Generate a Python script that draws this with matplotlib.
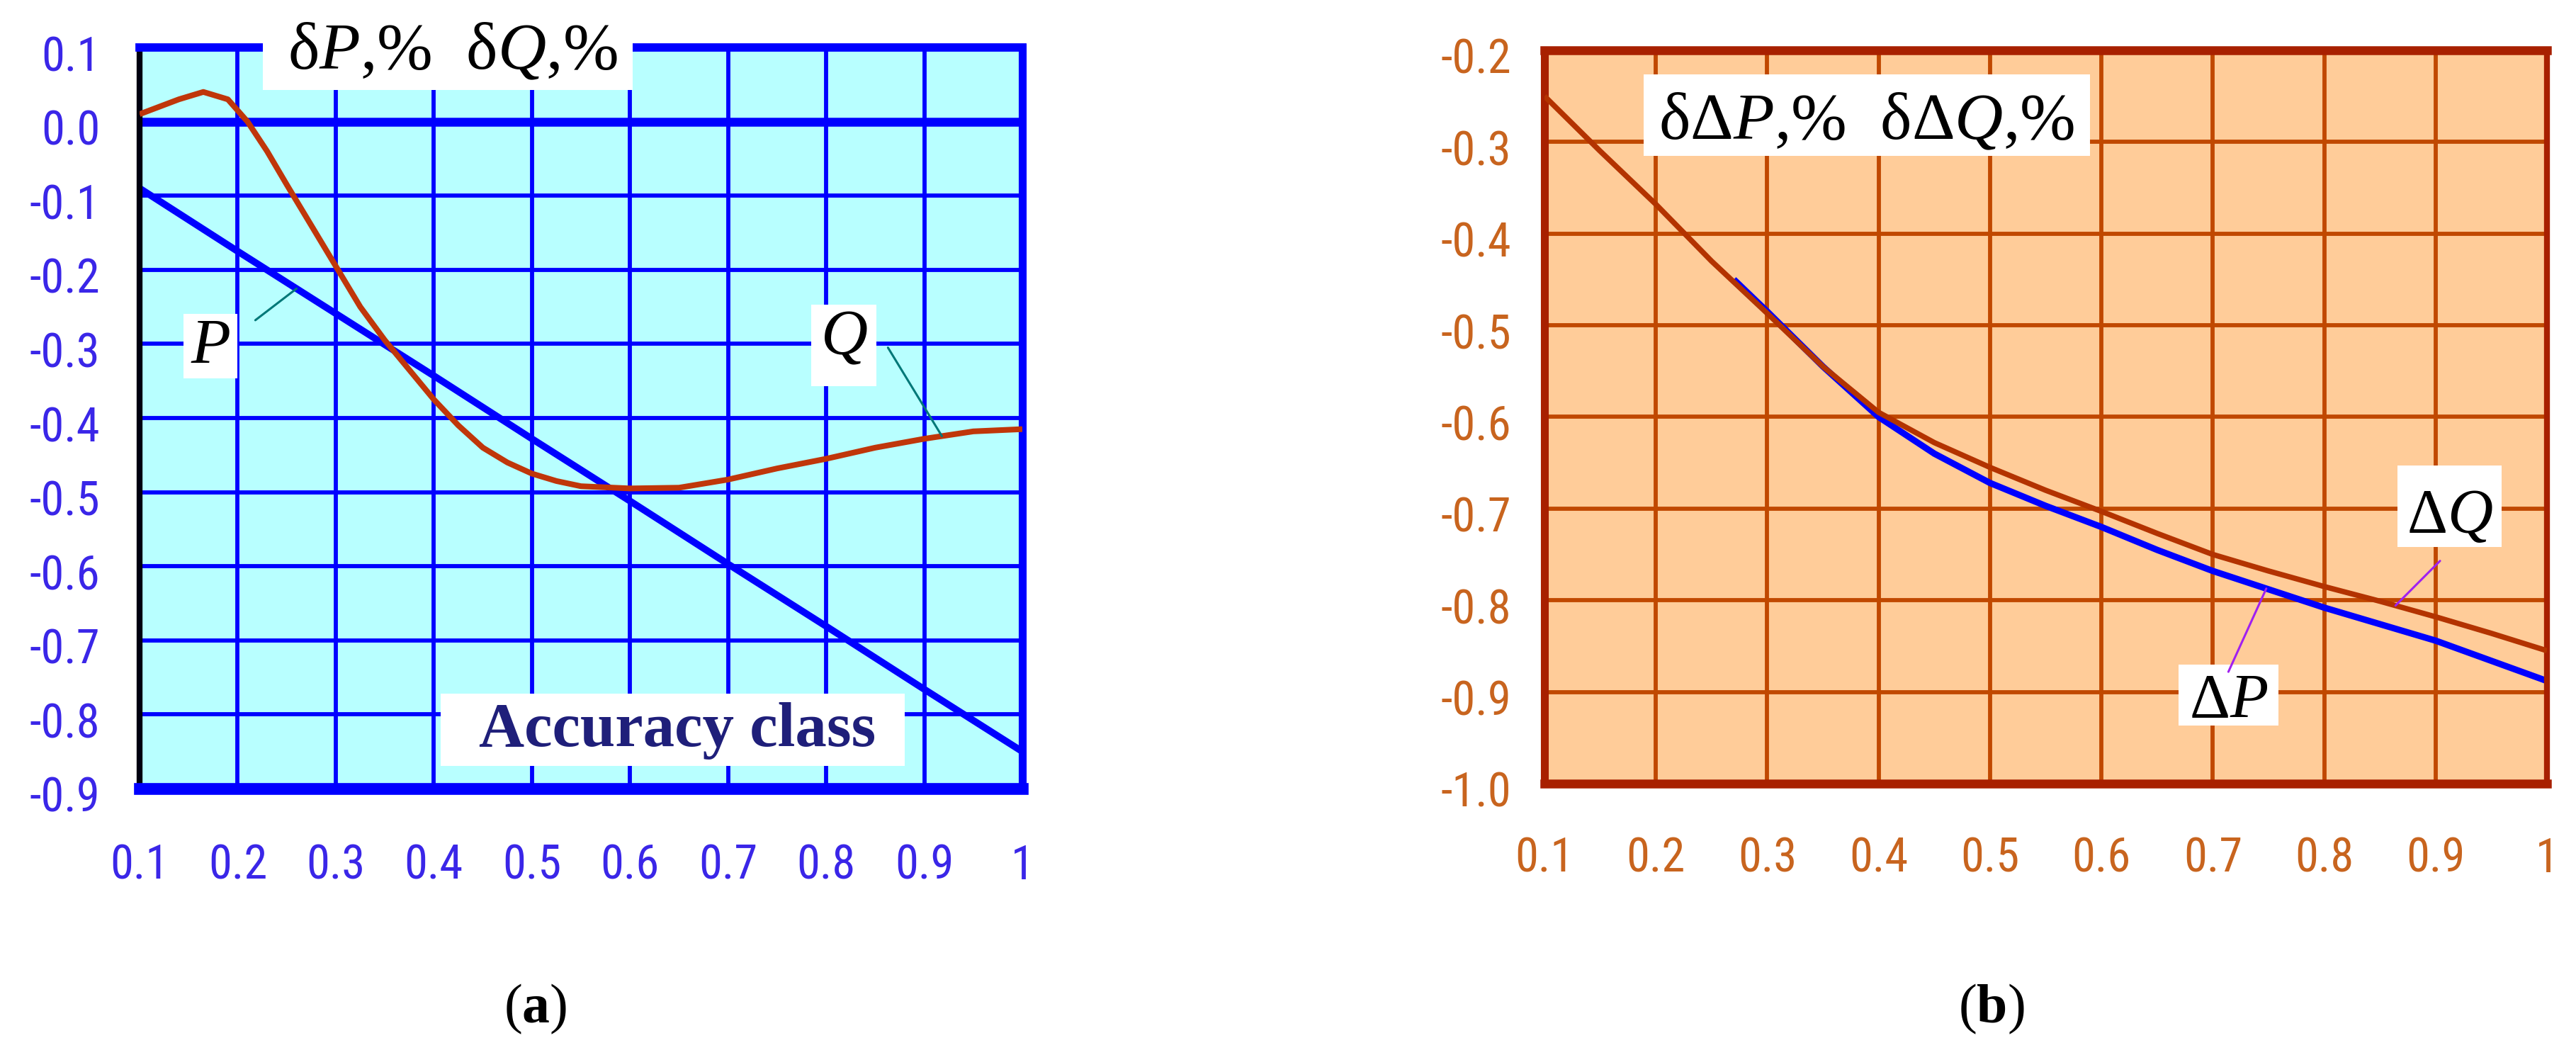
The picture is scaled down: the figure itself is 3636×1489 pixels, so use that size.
import numpy as np
import matplotlib
matplotlib.use("Agg")
import matplotlib.pyplot as plt
from matplotlib import font_manager
from matplotlib.patches import Rectangle
from matplotlib.transforms import ScaledTranslation

# ---------------- data ----------------
x_ticks = [0.1, 0.2, 0.3, 0.4, 0.5, 0.6, 0.7, 0.8, 0.9, 1.0]
x_tick_labels = ["0.1", "0.2", "0.3", "0.4", "0.5", "0.6", "0.7", "0.8", "0.9", "1"]

a_y_ticks = [0.1, 0.0, -0.1, -0.2, -0.3, -0.4, -0.5, -0.6, -0.7, -0.8, -0.9]
a_y_tick_labels = ["0.1", "0.0", "-0.1", "-0.2", "-0.3", "-0.4", "-0.5",
                   "-0.6", "-0.7", "-0.8", "-0.9"]

p_x = [0.1, 0.2, 0.3, 0.4, 0.5, 0.6, 0.7, 0.8, 0.9, 1.0]
p_y = [-0.09, -0.175, -0.259, -0.343, -0.428, -0.512, -0.597, -0.681, -0.766, -0.85]

q_x = [0.10, 0.12, 0.14, 0.165, 0.19, 0.21, 0.23, 0.25, 0.275, 0.30, 0.325,
       0.35, 0.375, 0.40, 0.425, 0.45, 0.475, 0.50, 0.525, 0.55, 0.60, 0.65,
       0.70, 0.75, 0.80, 0.85, 0.90, 0.95, 1.00]
q_y = [0.01, 0.02, 0.03, 0.04, 0.03, 0.0, -0.04, -0.085, -0.14, -0.195, -0.25,
       -0.295, -0.335, -0.375, -0.41, -0.44, -0.46, -0.475, -0.485, -0.492,
       -0.495, -0.494, -0.483, -0.468, -0.455, -0.44, -0.428, -0.418, -0.415]

b_y_ticks = [-0.2, -0.3, -0.4, -0.5, -0.6, -0.7, -0.8, -0.9, -1.0]
b_y_tick_labels = ["-0.2", "-0.3", "-0.4", "-0.5", "-0.6", "-0.7", "-0.8",
                   "-0.9", "-1.0"]

dq_x = [0.10, 0.15, 0.20, 0.25, 0.30, 0.35, 0.40, 0.45, 0.50, 0.55, 0.60,
        0.65, 0.70, 0.75, 0.80, 0.85, 0.90, 0.95, 1.00]
dq_y = [-0.250, -0.310, -0.368, -0.430, -0.487, -0.545, -0.595, -0.628,
        -0.655, -0.680, -0.703, -0.727, -0.750, -0.768, -0.785, -0.801,
        -0.818, -0.836, -0.855]

dp_x = [0.27, 0.30, 0.35, 0.40, 0.45, 0.50, 0.55, 0.60, 0.65, 0.70, 0.75,
        0.80, 0.85, 0.90, 0.95, 1.00]
dp_y = [-0.45, -0.485, -0.545, -0.60, -0.64, -0.672, -0.697, -0.72, -0.745,
        -0.768, -0.788, -0.808, -0.826, -0.844, -0.866, -0.888]

# ---------------- fonts ----------------
names = {f.name for f in font_manager.fontManager.ttflist}
tick_family, tick_size = "Liberation Sans", 45
for fam, size in [("Liberation Sans Narrow", 50), ("Roboto Condensed", 48),
                  ("Open Sans Condensed", 48), ("DejaVu Sans Condensed", 44)]:
    if fam in names:
        tick_family, tick_size = fam, size
        break
serif = "Liberation Serif"

plt.rcParams["axes.unicode_minus"] = False
plt.rcParams["mathtext.fontset"] = "custom"
plt.rcParams["mathtext.rm"] = serif
plt.rcParams["mathtext.it"] = serif + ":italic"
plt.rcParams["mathtext.bf"] = serif + ":bold"

fig = plt.figure(figsize=(36.37, 14.89), dpi=100)
fig.patch.set_facecolor("white")

axa = fig.add_axes([0.05417, 0.25252, 0.34259, 0.70248])
axb = fig.add_axes([0.59940, 0.25722, 0.38906, 0.69510])


def style(ax, bg, grid_c, spine_c, left_c, lw_spines, tick_c, yticks, ylabels,
          ylim, ypad, xpad):
    ax.set_facecolor(bg)
    ax.set_xlim(0.1, 1.0)
    ax.set_ylim(*ylim)
    ax.set_xticks(x_ticks)
    ax.set_xticklabels(x_tick_labels)
    ax.set_yticks(yticks)
    ax.set_yticklabels(ylabels)
    ax.set_axisbelow(True)
    ax.grid(True, color=grid_c, lw=4.2)
    ax.tick_params(length=0, labelsize=tick_size, colors=tick_c)
    ax.tick_params(axis="y", pad=ypad)
    ax.tick_params(axis="x", pad=xpad)
    for lab in ax.get_xticklabels() + ax.get_yticklabels():
        lab.set_family(tick_family)
    for lab in ax.get_yticklabels():
        lab.set_transform(lab.get_transform() +
                          ScaledTranslation(0, -0.08, fig.dpi_scale_trans))
    for side, lw in lw_spines.items():
        ax.spines[side].set_linewidth(lw)
        ax.spines[side].set_color(spine_c)
    ax.spines["left"].set_color(left_c)


style(axa, "#b8ffff", "#0000ff", "#0000ff", "#000010",
      {"top": 8.5, "bottom": 12, "right": 8, "left": 6},
      "#3a26e8", a_y_ticks, a_y_tick_labels, (-0.9, 0.1), 40, 56)
style(axb, "#ffcc99", "#c04800", "#a82000", "#a82000",
      {"top": 9, "bottom": 9, "right": 6, "left": 8},
      "#c8641e", b_y_ticks, b_y_tick_labels, (-1.0, -0.2), 34, 54)

# zero line in panel (a)
axa.axhline(0.0, color="#0000ff", lw=9, zorder=1)

# ---------------- curves ----------------
axa.plot(p_x, p_y, color="#0000ff", lw=7, solid_capstyle="butt", zorder=2)
axa.plot(q_x, q_y, color="#c0360a", lw=5.8, solid_capstyle="butt", zorder=3)

axb.plot(dp_x, dp_y, color="#0000ff", lw=6.5, solid_capstyle="butt", zorder=2)
axb.plot(dq_x, dq_y, color="#b33300", lw=5.5, solid_capstyle="butt", zorder=3)


def box(ax, x0, x1, y0, y1):
    ax.add_patch(Rectangle((x0, y0), x1 - x0, y1 - y0, facecolor="white",
                           edgecolor="none", clip_on=False, zorder=4))


# ---------------- panel (a) annotations ----------------
box(axa, 0.226, 0.603, 0.0426, 0.164)
axa.text(0.419, 0.0713, "δ$P$,%  δ$Q$,%", family=serif, fontsize=68,
         ha="center", va="baseline", color="black", zorder=5)

box(axa, 0.407, 0.880, -0.869, -0.772)
axa.text(0.648, -0.843, "Accuracy class", family=serif, fontweight="bold",
         fontsize=64, ha="center", va="baseline", color="#1f1f7a", zorder=5)

box(axa, 0.145, 0.200, -0.346, -0.259)
axa.text(0.172, -0.326, "$P$", family=serif, fontsize=66, ha="center",
         va="baseline", color="black", zorder=5)
axa.annotate("", xy=(0.26, np.interp(0.26, p_x, p_y)), xytext=(0.218, -0.268),
             arrowprops=dict(arrowstyle="-", color="#007878", lw=2.2,
                             shrinkA=0, shrinkB=0), zorder=5)

box(axa, 0.785, 0.851, -0.357, -0.247)
axa.text(0.818, -0.314, "$Q$", family=serif, fontsize=66, ha="center",
         va="baseline", color="black", zorder=5)
axa.annotate("", xy=(0.918, np.interp(0.918, q_x, q_y)), xytext=(0.863, -0.305),
             arrowprops=dict(arrowstyle="-", color="#007878", lw=2.2,
                             shrinkA=0, shrinkB=0), zorder=5)

# ---------------- panel (b) annotations ----------------
box(axb, 0.189, 0.590, -0.315, -0.226)
axb.text(0.389, -0.297, "δΔ$P$,%  δΔ$Q$,%", family=serif, fontsize=68,
         ha="center", va="baseline", color="black", zorder=5)

box(axb, 0.866, 0.959, -0.742, -0.653)
axb.text(0.9125, -0.726, "Δ$Q$", family=serif, fontsize=64, ha="center",
         va="baseline", color="black", zorder=5)
axb.annotate("", xy=(0.864, np.interp(0.864, dq_x, dq_y)), xytext=(0.904, -0.757),
             arrowprops=dict(arrowstyle="-", color="#a020f0", lw=2.2,
                             shrinkA=0, shrinkB=0), zorder=5)

box(axb, 0.669, 0.759, -0.937, -0.870)
axb.text(0.714, -0.927, "Δ$P$", family=serif, fontsize=64, ha="center",
         va="baseline", color="black", zorder=5)
axb.annotate("", xy=(0.748, np.interp(0.748, dp_x, dp_y)), xytext=(0.714, -0.878),
             arrowprops=dict(arrowstyle="-", color="#a020f0", lw=2.2,
                             shrinkA=0, shrinkB=0), zorder=5)

# ---------------- panel letters ----------------
fig.text(756 / 3637, 1 - 1424 / 1489, r"($\mathbf{a}$)", family=serif,
         fontsize=56, ha="center", va="center", color="black")
fig.text(2811 / 3637, 1 - 1424 / 1489, r"($\mathbf{b}$)", family=serif,
         fontsize=56, ha="center", va="center", color="black")

fig.savefig("out.png", dpi=100, facecolor="white")
